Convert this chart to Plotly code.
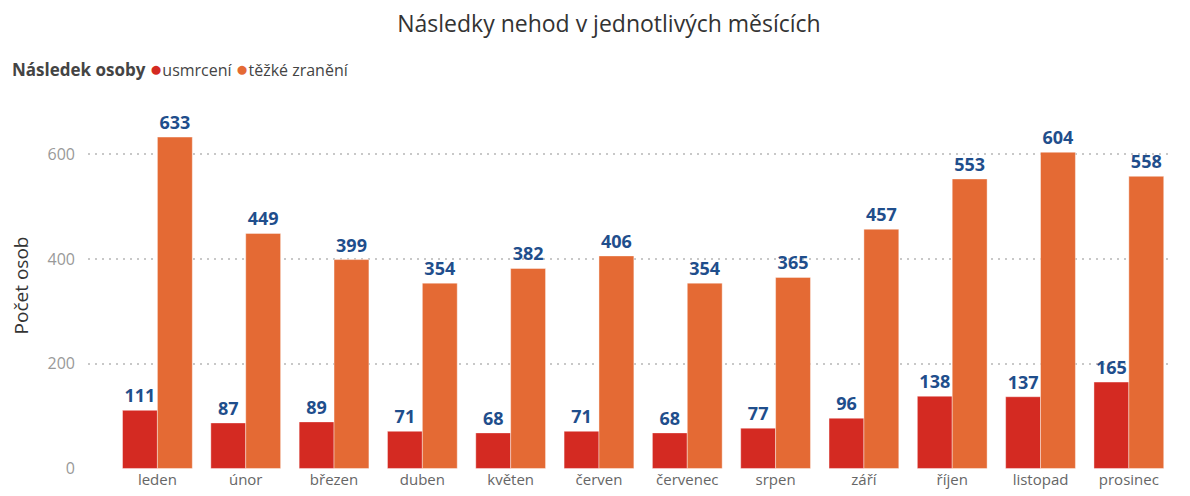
import plotly.graph_objects as go

months = ["leden", "únor", "březen", "duben", "květen", "červen", "červenec",
          "srpen", "září", "říjen", "listopad", "prosinec"]
usmrceni = [111, 87, 89, 71, 68, 71, 68, 77, 96, 138, 137, 165]
tezke = [633, 449, 399, 354, 382, 406, 354, 365, 457, 553, 604, 558]
y_ticks = [0, 200, 400, 600]

RED = "#D42A22"
ORANGE = "#E46A34"
FONT = "Open Sans, Noto Sans, sans-serif"
LABEL = dict(family=FONT, size=18, color="#1F4E8C", weight="bold")

fig = go.Figure()
fig.add_trace(go.Bar(
    name="usmrcení", x=months, y=usmrceni, marker_color=RED,
    marker_line=dict(color="rgba(255,255,255,0.4)", width=1),
    text=[str(v) for v in usmrceni], textposition="outside",
    textfont=LABEL, cliponaxis=False, showlegend=False))
fig.add_trace(go.Bar(
    name="těžké zranění", x=months, y=tezke, marker_color=ORANGE,
    marker_line=dict(color="rgba(255,255,255,0.4)", width=1),
    text=[str(v) for v in tezke], textposition="outside",
    textfont=LABEL, cliponaxis=False, showlegend=False))

legend_text = (f"<span style='font-size:17px'><b>Následek osoby</b></span> "
               f"<span style='color:{RED};font-size:21px'>●</span>usmrcení "
               f"<span style='color:{ORANGE};font-size:21px'>●</span>těžké zranění")

fig.update_layout(
    width=1190, height=496,
    paper_bgcolor="white", plot_bgcolor="white",
    font=dict(family=FONT, color="#555"),
    barmode="group", bargap=0.21, bargroupgap=0,
    margin=dict(l=70, r=25, t=94, b=35),
    title=dict(text="Následky nehod v jednotlivých měsících", x=0.505, xanchor="center",
               y=1 - 16 / 496, yanchor="middle",
               font=dict(family=FONT, size=23, color="#333")),
    annotations=[dict(text=legend_text, xref="paper", yref="paper",
                      x=-79 / 1095, y=1 + (94 - 60) / 367, xanchor="left", yanchor="middle",
                      showarrow=False, font=dict(family=FONT, size=16, color="#444"))],
    xaxis=dict(range=[-0.786, 11.5], showgrid=False, showline=False, ticks="",
               tickfont=dict(size=15, color="#666")),
    yaxis=dict(range=[-1, 700], tickvals=y_ticks, showgrid=True, gridcolor="#c8c8c8",
               griddash="2px,5px", gridwidth=1.5, zeroline=False, showline=False,
               tickfont=dict(size=16, color="#999"), ticklabelstandoff=12,
               title=dict(text="Počet osob", font=dict(size=19, color="#333"), standoff=14)),
)
fig.write_html("out.html")
